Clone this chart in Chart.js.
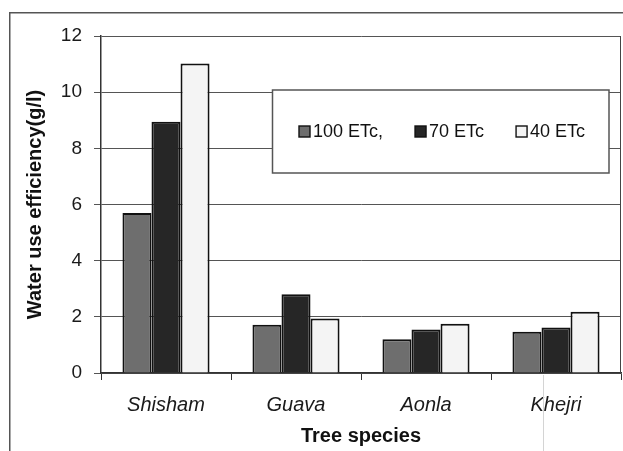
<!DOCTYPE html>
<html>
<head>
<meta charset="utf-8">
<script src="https://cdn.jsdelivr.net/npm/chart.js@4"></script>
<style>
  html, body { margin: 0; padding: 0; background: #ffffff; }
  #wrap { width: 623px; height: 451px; position: relative; }
</style>
</head>
<body>
<div id="wrap"><canvas id="c" width="623" height="451"></canvas></div>
<script>
// ---- data ----
const categories = ['Shisham', 'Guava', 'Aonla', 'Khejri'];
const seriesLabels = ['100 ETc,', '70 ETc', '40 ETc'];
const etc100 = [5.7, 1.72, 1.2, 1.47];
const etc70 = [8.95, 2.8, 1.55, 1.62];
const etc40 = [11.02, 1.94, 1.75, 2.18];
const yMin = 0, yMax = 12, yStep = 2;
const xTitle = 'Tree species';
const yTitle = 'Water use efficiency(g/l)';

const FONT = '"Liberation Sans", Arial, sans-serif';
const colors = ['#6e6e6e', '#262626', '#f4f4f4'];

const framePlugin = {
  id: 'frame',
  beforeDraw(chart) {
    const ctx = chart.ctx;
    ctx.save();
    ctx.fillStyle = '#ffffff';
    ctx.fillRect(0, 0, chart.width, chart.height);
    ctx.strokeStyle = '#555555';
    ctx.lineWidth = 1.5;
    ctx.strokeRect(9.75, 12.75, 800, 600);
    ctx.restore();
  },
  afterDraw(chart) {
    const ctx = chart.ctx;
    const a = chart.chartArea;
    ctx.save();
    // plot right border
    ctx.strokeStyle = '#444444';
    ctx.lineWidth = 1;
    ctx.beginPath();
    ctx.moveTo(a.right - 0.5, a.top);
    ctx.lineTo(a.right - 0.5, a.bottom);
    ctx.stroke();
    // faint scan artifact line
    ctx.strokeStyle = '#d4d4d4';
    ctx.beginPath();
    ctx.moveTo(543.5, a.bottom + 2);
    ctx.lineTo(543.5, chart.height);
    ctx.stroke();
    // legend box
    const bx = 272.5, by = 90, bw = 336.5, bh = 83;
    ctx.fillStyle = '#ffffff';
    ctx.fillRect(bx, by, bw, bh);
    ctx.strokeStyle = '#555555';
    ctx.lineWidth = 1.5;
    ctx.strokeRect(bx, by, bw, bh);
    ctx.font = '18px ' + FONT;
    ctx.textBaseline = 'middle';
    ctx.textAlign = 'left';
    let x = bx + 26.5;
    const cy = 131.5;
    chart.data.datasets.forEach((ds) => {
      ctx.fillStyle = ds.backgroundColor;
      ctx.fillRect(x, cy - 5.5, 11, 11);
      ctx.strokeStyle = '#111111';
      ctx.lineWidth = 1.4;
      ctx.strokeRect(x, cy - 5.5, 11, 11);
      ctx.fillStyle = '#111111';
      ctx.fillText(ds.label, x + 14, cy + 1);
      x += 14 + ctx.measureText(ds.label).width + 32;
    });
    ctx.restore();
  }
};

new Chart(document.getElementById('c'), {
  type: 'bar',
  data: {
    labels: categories,
    datasets: [
      { label: seriesLabels[0], data: etc100, backgroundColor: colors[0] },
      { label: seriesLabels[1], data: etc70, backgroundColor: colors[1] },
      { label: seriesLabels[2], data: etc40, backgroundColor: colors[2] }
    ].map(d => Object.assign(d, { borderColor: '#111111', borderWidth: 2, borderSkipped: 'bottom' }))
  },
  options: {
    responsive: false,
    animation: false,
    events: [],
    layout: { padding: { left: 0, top: 36, right: 2, bottom: 0 } },
    datasets: { bar: { categoryPercentage: 0.67, barPercentage: 1.0 } },
    plugins: {
      legend: { display: false },
      tooltip: { enabled: false },
      title: { display: false }
    },
    scales: {
      x: {
        afterFit(scale) { scale.height = 78; },
        grid: { drawOnChartArea: false, drawTicks: true, tickLength: 7, color: '#333333', offset: true },
        border: { display: true, color: '#333333', width: 1.5 },
        ticks: { color: '#1a1a1a', padding: 13, font: { family: FONT, size: 20, style: 'italic' } },
        title: { display: true, text: xTitle, color: '#111111', padding: { top: 0, bottom: 3 },
                 font: { family: FONT, size: 20, weight: 'bold' } }
      },
      y: {
        min: yMin, max: yMax,
        afterFit(scale) { scale.width = 101; },
        grid: { color: '#555555', lineWidth: 1, tickLength: 7 },
        border: { display: true, color: '#333333', width: 1.5 },
        ticks: { stepSize: yStep, color: '#1a1a1a', padding: 12, font: { family: FONT, size: 19 } },
        title: { display: true, text: yTitle, color: '#111111', padding: { top: 23, bottom: 0 },
                 font: { family: FONT, size: 20, weight: 'bold' } }
      }
    }
  },
  plugins: [framePlugin]
});
</script>
</body>
</html>
